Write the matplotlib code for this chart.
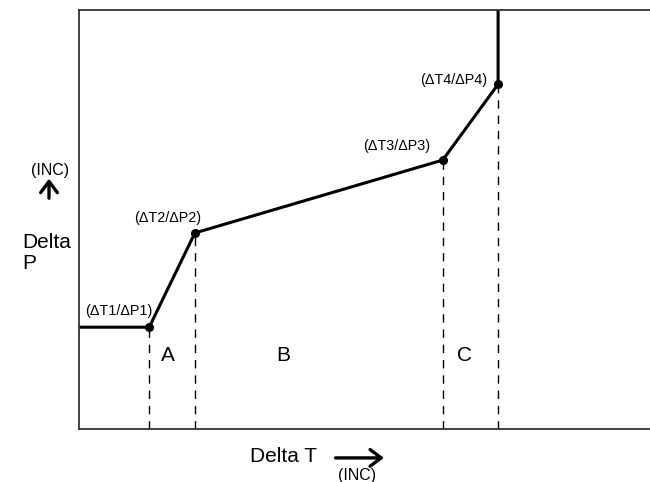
import matplotlib.pyplot as plt
from matplotlib.patches import FancyArrowPatch

plt.rcParams['font.family'] = ['Liberation Sans', 'DejaVu Sans']

# break points of the curve (axes span 0..100 in both directions)
pt_labels = ['(ΔT1/ΔP1)', '(ΔT2/ΔP2)', '(ΔT3/ΔP3)', '(ΔT4/ΔP4)']
pt_x = [12.3, 20.3, 63.7, 73.4]
pt_y = [24.3, 46.8, 64.2, 82.3]
x_start, x_top = 0, 73.4
regions = ['A', 'B', 'C']
region_x = [15.6, 35.7, 67.6]
region_y = 17.6

fig = plt.figure(figsize=(6.5, 4.82), dpi=100)
ax = fig.add_axes([0.1215, 0.11, 0.8785, 0.869])
ax.set_xlim(0, 100)
ax.set_ylim(0, 100)

# curve
xs = [x_start] + pt_x + [x_top]
ys = [pt_y[0]] + pt_y + [100]
ax.plot(xs, ys, color='black', lw=2.2, solid_capstyle='butt', clip_on=False)
ax.plot(pt_x, pt_y, 'o', color='black', ms=5.5)

for x, y in zip(pt_x, pt_y):
    ax.plot([x, x], [0, y], color='black', lw=1, ls=(0, (6, 5)))

offs = [(-5.4, 2.2), (-4.7, 1.9), (-8.0, 1.7), (-7.7, -0.7)]
for lab, x, y, (dx, dy) in zip(pt_labels, pt_x, pt_y, offs):
    ax.text(x + dx, y + dy, lab, fontsize=10.4, ha='center', va='bottom')

for r, x in zip(regions, region_x):
    ax.text(x, region_y, r, fontsize=15, ha='center', va='center')

ax.spines['right'].set_visible(False)
for s in ['left', 'top', 'bottom']:
    ax.spines[s].set_color('#333333')
    ax.spines[s].set_linewidth(1.3)
ax.set_xticks([])
ax.set_yticks([])

# axis labels with arrows
fig.text(0.034, 0.496, 'Delta', fontsize=15, ha='left', va='center')
fig.text(0.034, 0.454, 'P', fontsize=15, ha='left', va='center')
fig.text(0.077, 0.647, '(INC)', fontsize=11.5, ha='center', va='center')
fig.patches.append(FancyArrowPatch(
    (0.0754, 0.583), (0.0754, 0.635), transform=fig.transFigure,
    arrowstyle='->,head_length=0.4,head_width=0.3', mutation_scale=20,
    lw=2.4, color='black'))
fig.text(0.436, 0.052, 'Delta T', fontsize=15, ha='center', va='center')
fig.text(0.549, 0.013, '(INC)', fontsize=11.5, ha='center', va='center')
fig.patches.append(FancyArrowPatch(
    (0.512, 0.05), (0.595, 0.05), transform=fig.transFigure,
    arrowstyle='->,head_length=0.4,head_width=0.3', mutation_scale=20,
    lw=2.4, color='black'))

fig.savefig('out.png', dpi=100)
